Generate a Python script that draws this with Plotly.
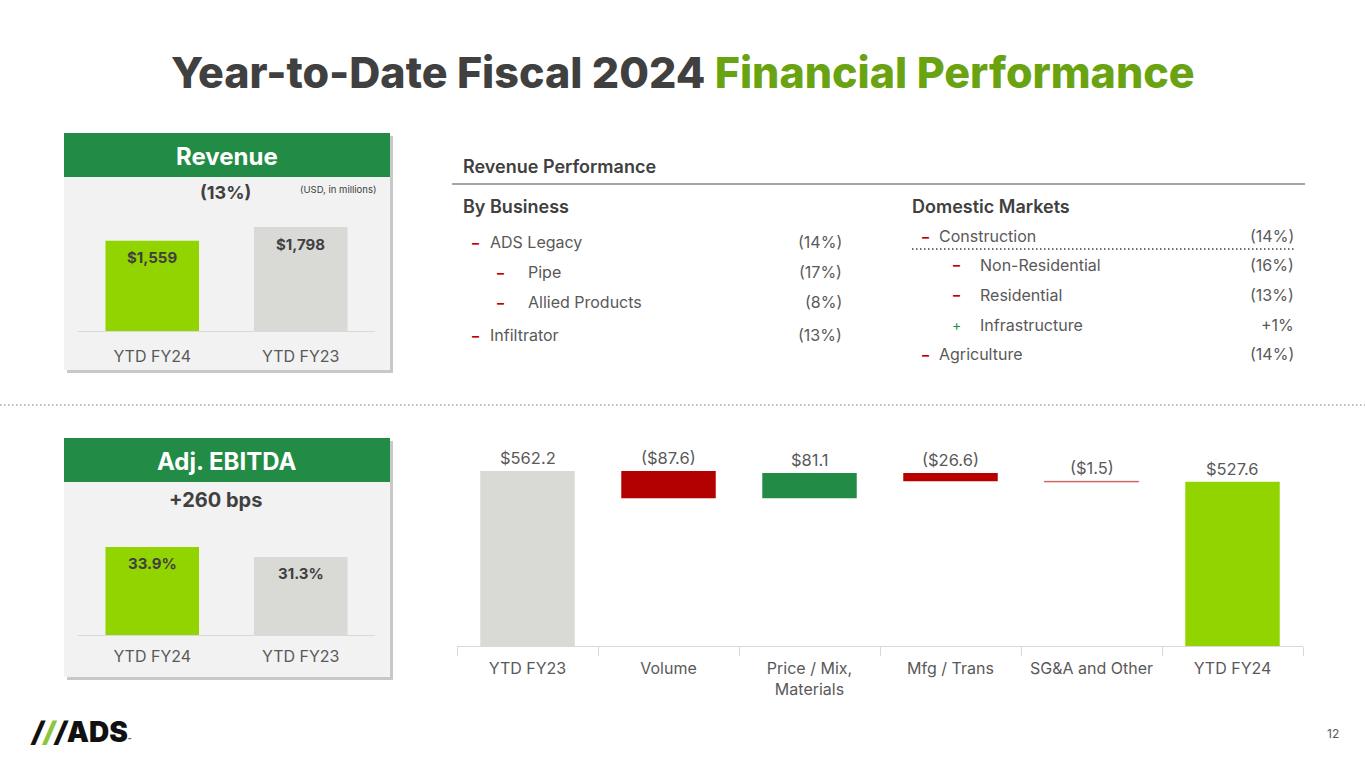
import numpy as np
import plotly.graph_objects as go

W, H = 1365, 768

# ---- data ----
rev_cats = ["YTD FY24", "YTD FY23"]
rev_vals = [1559, 1798]
rev_labels = ["$1,559", "$1,798"]

ebitda_cats = ["YTD FY24", "YTD FY23"]
ebitda_vals = [33.9, 31.3]
ebitda_labels = ["33.9%", "31.3%"]

wf_cats = ["YTD FY23", "Volume", "Price / Mix,<br>Materials", "Mfg / Trans",
           "SG&A and Other", "YTD FY24"]
wf_vals = [562.2, -87.6, 81.1, -26.6, -1.5, 527.6]
wf_labels = ["$562.2", "($87.6)", "$81.1", "($26.6)", "($1.5)", "$527.6"]
wf_measure = ["absolute", "relative", "relative", "relative", "relative", "total"]

biz_items = ["ADS Legacy", "Pipe", "Allied Products", "Infiltrator"]
biz_vals = ["(14%)", "(17%)", "(8%)", "(13%)"]
biz_level = [0, 1, 1, 0]

mkt_items = ["Construction", "Non-Residential", "Residential", "Infrastructure", "Agriculture"]
mkt_vals = ["(14%)", "(16%)", "(13%)", "+1%", "(14%)"]
mkt_level = [0, 1, 1, 1, 0]
mkt_sign = ["-", "-", "-", "+", "-"]

DARK = "#404040"
TXT = "#595959"
GREEN_T = "#6aa312"
HEAD_G = "#228b45"
LIME = "#92d400"
GREY = "#d9d9d6"
RED = "#b30000"
PANEL = "#f2f2f2"
FONT = "Inter"


def px(x):
    return x / W


def py(y):
    return 1 - y / H


def note(x, y, text, size=16, color=TXT, family=FONT, xanchor="center", weight=None):
    f = dict(family=family, size=size, color=color)
    if weight:
        f["weight"] = weight
    return dict(x=px(x), y=py(y), xref="paper", yref="paper", text=text, showarrow=False,
                xanchor=xanchor, yanchor="middle", font=f)


fig = go.Figure()
ann = []
shapes = []

# revenue bars
fig.add_trace(go.Bar(x=rev_cats, y=rev_vals, width=0.63,
                     marker=dict(color=[LIME, GREY], line_width=0),
                     xaxis="x", yaxis="y", showlegend=False, hoverinfo="skip"))
for c, v, t in zip(rev_cats, rev_vals, rev_labels):
    ann.append(dict(x=c, y=v, xref="x", yref="y", text=f"<b>{t}</b>", showarrow=False,
                    yanchor="middle", yshift=-17,
                    font=dict(family=FONT, size=15, color=DARK)))

# ebitda bars
fig.add_trace(go.Bar(x=ebitda_cats, y=ebitda_vals, width=0.63, base=0,
                     marker=dict(color=[LIME, GREY], line_width=0),
                     xaxis="x2", yaxis="y2", showlegend=False, hoverinfo="skip"))
for c, v, t in zip(ebitda_cats, ebitda_vals, ebitda_labels):
    ann.append(dict(x=c, y=v, xref="x2", yref="y2", text=f"<b>{t}</b>", showarrow=False,
                    yanchor="middle", yshift=-17,
                    font=dict(family=FONT, size=15, color=DARK)))

# waterfall bars
bases, heights, tops = [], [], []
run = 0.0
for m, v in zip(wf_measure, wf_vals):
    if m == "relative":
        b, h = run, v
        run += v
    else:
        b, h = 0.0, v
        run = v
    bases.append(b)
    heights.append(h)
    tops.append(max(b, b + h))
wf_colors = [GREY, RED, HEAD_G, "#b80000", "#c04040", LIME]
wf_lines = [0, 0, 0, 0, 1, 0]
fig.add_trace(go.Bar(x=wf_cats, y=heights, base=bases, width=0.67,
                     marker=dict(color=wf_colors, line=dict(color="#d06060", width=wf_lines)),
                     xaxis="x3", yaxis="y3", showlegend=False, hoverinfo="skip"))
for c, t, lab in zip(wf_cats, tops, wf_labels):
    ann.append(dict(x=c, y=t, xref="x3", yref="y3", text=lab, showarrow=False,
                    yanchor="middle", yshift=13,
                    font=dict(family=FONT, size=16.5, color=TXT)))

# panels with shadows
for top, bot, title in [(133, 370, "Revenue"), (438, 677, "Adj. EBITDA")]:
    shapes.append(dict(type="rect", xref="paper", yref="paper", x0=px(67), x1=px(393),
                       y0=py(bot + 3), y1=py(top + 3), fillcolor="#c8c8c8", line_width=0, layer="below"))
    shapes.append(dict(type="rect", xref="paper", yref="paper", x0=px(64), x1=px(390),
                       y0=py(bot), y1=py(top), fillcolor=PANEL, line_width=0, layer="below"))
    shapes.append(dict(type="rect", xref="paper", yref="paper", x0=px(64), x1=px(390),
                       y0=py(top + 44), y1=py(top), fillcolor=HEAD_G, line_width=0, layer="below"))
    ann.append(note(227, top + 23, f"<b>{title}</b>", size=24, color="white"))

ann.append(note(225, 193, "<b>(13%)</b>", size=18, color=DARK))
ann.append(note(378, 189, "(USD, in millions)", size=9.5, color=DARK, xanchor="right"))
ann.append(note(215, 500, "<b>+260 bps</b>", size=20, color=DARK))

# title
ann.append(note(683, 72,
                f"<span style='color:{DARK}'>Year-to-Date Fiscal 2024</span> "
                f"<span style='color:{GREEN_T}'>Financial Performance</span>",
                size=43, weight=800, color=DARK))

# separator
shapes.append(dict(type="line", xref="paper", yref="paper", x0=0, x1=1, y0=py(405), y1=py(405),
                   line=dict(color="#a6a6a6", width=1.5, dash="1.5px,2.5px")))

# revenue performance
ann.append(note(461, 167, "Revenue Performance", size=18, color=DARK, xanchor="left", weight=600))
shapes.append(dict(type="line", xref="paper", yref="paper", x0=px(452), x1=px(1305),
                   y0=py(184), y1=py(184), line=dict(color="#a6a6a6", width=2)))
ann.append(note(461, 206, "By Business", size=18, color=DARK, xanchor="left", weight=600))
ann.append(note(910, 206, "Domestic Markets", size=18, color=DARK, xanchor="left", weight=600))

biz_y = [242, 272, 302, 335]
for item, val, lvl, yy in zip(biz_items, biz_vals, biz_level, biz_y):
    dx = 475 if lvl == 0 else 501
    tx = 488 if lvl == 0 else 526
    ann.append(note(dx, yy, "<b>–</b>", size=14, color="#c00000"))
    ann.append(note(tx, yy, item, xanchor="left"))
    ann.append(note(844, yy, val, xanchor="right"))

mkt_y = [236, 265, 295, 325, 354]
for item, val, lvl, sg, yy in zip(mkt_items, mkt_vals, mkt_level, mkt_sign, mkt_y):
    dx = 925 if lvl == 0 else 957
    tx = 937 if lvl == 0 else 978
    col = "#c00000" if sg == "-" else HEAD_G
    ann.append(note(dx, yy, "<b>–</b>" if sg == "-" else "+", size=14, color=col))
    ann.append(note(tx, yy, item, xanchor="left"))
    ann.append(note(1296, yy, val, xanchor="right"))
shapes.append(dict(type="line", xref="paper", yref="paper", x0=px(912), x1=px(1295),
                   y0=py(249), y1=py(249), line=dict(color="#404040", width=1.5, dash="1.5px,2.5px")))

# logo and page number
ann.append(note(28, 732,
                "<i><span style='color:#111'>/</span><span style='color:#8cc63f'>/</span>"
                "<span style='color:#111'>/</span></i><span style='color:#111'>ADS</span>"
                "<span style='font-size:5px;color:#111'>™</span>",
                size=28, weight=900, color="#111", xanchor="left"))
ann.append(note(1341, 733, "12", size=12, xanchor="right"))

small_axis = dict(showgrid=False, zeroline=False, showline=True, linecolor="#d9d9d9",
                  linewidth=1, ticks="",
                  tickfont=dict(family=FONT, size=16, color=TXT), fixedrange=True)

fig.update_layout(
    width=W, height=H, margin=dict(l=0, r=0, t=0, b=0),
    paper_bgcolor="white", plot_bgcolor="rgba(0,0,0,0)",
    shapes=shapes, annotations=ann,
    xaxis=dict(domain=[px(78), px(375)], anchor="y", ticklabelstandoff=11, **small_axis),
    yaxis=dict(domain=[py(331), py(200)], range=[0, 2266], visible=False),
    xaxis2=dict(domain=[px(78), px(375)], anchor="y2", ticklabelstandoff=7, **small_axis),
    yaxis2=dict(domain=[py(635), py(520)], range=[11, 40.9], visible=False),
    xaxis3=dict(domain=[px(457), px(1303)], anchor="y3", showgrid=False, zeroline=False,
                showline=True, linecolor="#d9d9d9", linewidth=1, ticks="outside",
                tickson="boundaries", ticklen=9, tickcolor="#d9d9d9", ticklabelstandoff=8,
                tickfont=dict(family=FONT, size=16, color=TXT)),
    yaxis3=dict(domain=[py(646), py(440)], range=[0, 662], visible=False),
)

fig.write_html("out.html", config={"displayModeBar": False},
               post_script="document.body.style.margin='0';")
